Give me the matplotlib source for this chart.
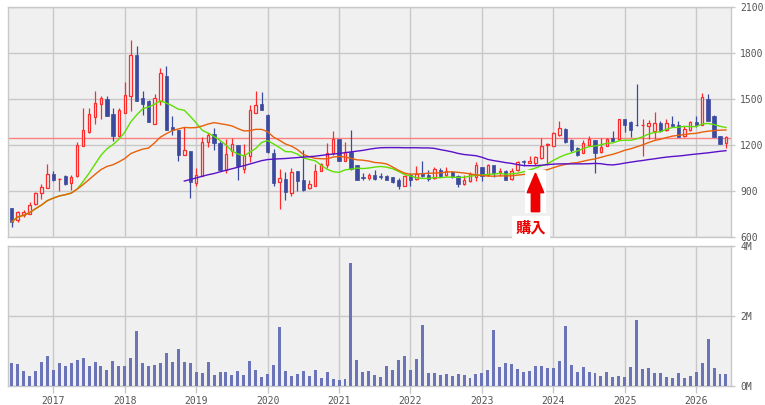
import numpy as np
import pandas as pd
import matplotlib
matplotlib.use("Agg")
import matplotlib.pyplot as plt
from matplotlib.patches import FancyArrow, Rectangle

# monthly candles, 2016-06 .. 2026-06
opens = [789, 711, 745, 752, 815, 887, 920, 1011, 975, 995, 952, 998,
         1191, 1282, 1383, 1467, 1502, 1404, 1256, 1409, 1517, 1787, 1506, 1489,
         1339, 1489, 1652, 1315, 1295, 1135, 1163, 952, 998, 1217, 1274, 1213,
         1039, 1158, 1202, 1043, 1126, 1411, 1467, 1398, 1148, 959, 980, 887,
         1032, 974, 920, 935, 1032, 1067, 1148, 1239, 1093, 1154, 1067, 991,
         985, 1006, 997, 995, 989, 974, 930, 1006, 980, 1017, 1006, 985,
         1039, 1002, 1024, 995, 946, 963, 991, 1054, 1006, 1071, 1021, 1032,
         978, 1034, 1095, 1083, 1083, 1115, 1200, 1195, 1267, 1306, 1235, 1180,
         1148, 1202, 1235, 1152, 1195, 1246, 1241, 1370, 1348, 1332, 1328, 1322,
         1293, 1343, 1300, 1337, 1333, 1256, 1296, 1350, 1330, 1500, 1391, 1261,
         1213]
highs = [792, 771, 778, 828, 893, 946, 1078, 1032, 982, 1006, 1002, 1217,
         1443, 1443, 1554, 1520, 1520, 1443, 1439, 1610, 1887, 1848, 1550, 1495,
         1535, 1704, 1717, 1389, 1295, 1317, 1163, 1050, 1250, 1278, 1311, 1224,
         1241, 1246, 1202, 1208, 1463, 1554, 1548, 1400, 1174, 1045, 1021, 1052,
         1032, 1169, 974, 1076, 1083, 1213, 1293, 1239, 1220, 1300, 1067, 1017,
         1017, 1034, 1017, 1002, 989, 985, 1006, 1017, 1065, 1098, 1039, 1054,
         1048, 1056, 1032, 1006, 1006, 1021, 1087, 1054, 1078, 1071, 1050, 1035,
         1050, 1093, 1104, 1130, 1126, 1246, 1210, 1282, 1354, 1311, 1241, 1185,
         1235, 1256, 1235, 1246, 1246, 1293, 1370, 1372, 1354, 1600, 1370, 1365,
         1415, 1359, 1370, 1391, 1354, 1322, 1359, 1387, 1540, 1535, 1398, 1261,
         1256]
lows = [665, 698, 730, 747, 809, 848, 917, 965, 897, 937, 908, 993,
        1191, 1276, 1337, 1370, 1387, 1223, 1252, 1409, 1419, 1484, 1393, 1348,
        1339, 1463, 1295, 1263, 1093, 1135, 854, 935, 998, 1187, 1169, 1032,
        1017, 1128, 974, 1015, 1089, 1409, 1426, 1150, 930, 780, 841, 869,
        897, 897, 915, 930, 1028, 1050, 1137, 1093, 1093, 1040, 974, 969,
        974, 974, 980, 974, 952, 913, 930, 930, 974, 989, 963, 980,
        991, 995, 985, 924, 941, 959, 963, 963, 995, 991, 995, 974,
        974, 1032, 1061, 1083, 1072, 1109, 1067, 1191, 1256, 1213, 1152, 1126,
        1148, 1202, 1017, 1148, 1191, 1219, 1241, 1282, 1250, 1326, 1126, 1241,
        1241, 1285, 1293, 1322, 1250, 1252, 1289, 1320, 1328, 1354, 1250, 1207,
        1180]
closes = [698, 763, 763, 809, 889, 928, 1011, 969, 980, 948, 991, 1197,
          1300, 1402, 1476, 1506, 1391, 1256, 1430, 1526, 1789, 1489, 1465, 1352,
          1506, 1671, 1295, 1295, 1132, 1169, 956, 1004, 1220, 1263, 1210, 1039,
          1143, 1207, 1060, 1137, 1430, 1461, 1426, 1152, 952, 985, 891, 1024,
          963, 904, 946, 1032, 1076, 1148, 1239, 1093, 1152, 1043, 974, 985,
          1006, 980, 993, 974, 956, 935, 1000, 974, 1013, 995, 980, 1043,
          995, 1032, 989, 946, 974, 1013, 1071, 995, 1071, 1017, 1032, 974,
          1028, 1087, 1091, 1093, 1122, 1195, 1208, 1278, 1311, 1217, 1169, 1132,
          1213, 1239, 1148, 1187, 1241, 1224, 1370, 1328, 1300, 1328, 1332, 1346,
          1343, 1293, 1343, 1322, 1252, 1306, 1348, 1328, 1513, 1359, 1250, 1207,
          1250]
# volume in millions of shares
volume = [0.66, 0.63, 0.43, 0.29, 0.43, 0.69, 0.86, 0.46, 0.66, 0.57, 0.66, 0.74,
          0.80, 0.57, 0.69, 0.57, 0.46, 0.71, 0.57, 0.57, 0.80, 1.57, 0.66, 0.57,
          0.60, 0.66, 0.94, 0.69, 1.06, 0.69, 0.66, 0.40, 0.37, 0.69, 0.31, 0.40,
          0.40, 0.31, 0.43, 0.31, 0.71, 0.46, 0.26, 0.34, 0.60, 1.69, 0.43, 0.29,
          0.34, 0.43, 0.29, 0.46, 0.23, 0.40, 0.20, 0.17, 0.20, 3.51, 0.74, 0.40,
          0.43, 0.31, 0.26, 0.57, 0.46, 0.74, 0.86, 0.46, 0.77, 1.74, 0.37, 0.37,
          0.31, 0.34, 0.29, 0.34, 0.31, 0.23, 0.34, 0.37, 0.46, 1.60, 0.54, 0.66,
          0.63, 0.49, 0.40, 0.43, 0.57, 0.57, 0.51, 0.51, 0.71, 1.71, 0.60, 0.40,
          0.54, 0.40, 0.37, 0.29, 0.40, 0.26, 0.29, 0.26, 0.54, 1.89, 0.49, 0.51,
          0.37, 0.37, 0.26, 0.23, 0.37, 0.23, 0.29, 0.40, 0.66, 1.34, 0.51, 0.34,
          0.34]
# 60-month average (needs history before the visible range)
ma60_start = 29
ma60 = [965, 975, 985, 996, 1006, 1014, 1025, 1035, 1045, 1055, 1065, 1076,
        1087, 1098, 1105, 1108, 1110, 1112, 1115, 1118, 1121, 1124, 1127, 1132,
        1137, 1141, 1145, 1150, 1155, 1160, 1165, 1172, 1178, 1182, 1183, 1183,
        1183, 1182, 1182, 1182, 1181, 1181, 1178, 1170, 1163, 1155, 1145, 1138,
        1134, 1130, 1120, 1106, 1098, 1092, 1085, 1080, 1072, 1066, 1065, 1065,
        1068, 1072, 1075, 1077, 1077, 1077, 1077, 1077, 1078, 1080, 1078, 1072,
        1070, 1075, 1082, 1088, 1094, 1099, 1105, 1110, 1116, 1121, 1125, 1128,
        1132, 1137, 1141, 1145, 1149, 1154, 1159, 1163]
buy_price = 1248
buy_index = 88

dates = pd.date_range("2016-06-01", periods=len(closes), freq="MS")
df = pd.DataFrame({"open": opens, "high": highs, "low": lows, "close": closes,
                   "volume": volume}, index=dates)
x = np.arange(len(df))
ma12 = df["close"].rolling(12, min_periods=1).mean()
ma24 = df["close"].rolling(24, min_periods=1).mean()

bg = "#f0f0f0"
grid_c = "#c8c8c8"
up_c = "#ff2a2a"
dn_c = "#3c4a9e"
tick_c = "#555555"

plt.rcParams["font.family"] = ["DejaVu Sans Mono"]

fig = plt.figure(figsize=(7.65, 4.05), dpi=100)
W, H = 765, 405
ax1 = fig.add_axes([8 / W, 1 - 237 / H, 723 / W, 230 / H])
ax2 = fig.add_axes([8 / W, 1 - 386 / H, 723 / W, 140 / H])

year_pos = x[df.index.month == 1]
year_lab = [str(d.year) for d in df.index[df.index.month == 1]]

for ax in (ax1, ax2):
    ax.set_facecolor(bg)
    ax.set_xlim(-0.62, 120.85)
    ax.set_xticks(year_pos)
    for s in ax.spines.values():
        s.set_color(grid_c)
        s.set_linewidth(1)
    ax.grid(True, color=grid_c, linewidth=1)
    ax.set_axisbelow(True)
    ax.yaxis.tick_right()
    ax.tick_params(colors=grid_c, labelcolor=tick_c, labelsize=7, length=3, width=1)

# candles
up = df["close"] >= df["open"]
ax1.vlines(x[up], df["low"][up], df["high"][up], color=up_c, linewidth=0.9, zorder=3)
ax1.vlines(x[~up], df["low"][~up], df["high"][~up], color=dn_c, linewidth=0.9, zorder=3)
body_lo = np.minimum(df["open"], df["close"])
body_h = np.maximum(np.abs(df["close"] - df["open"]), 2)
ax1.bar(x[up], body_h[up], bottom=body_lo[up], width=0.42, facecolor=bg,
        edgecolor=up_c, linewidth=0.9, zorder=4)
ax1.bar(x[~up], body_h[~up], bottom=body_lo[~up], width=0.55, facecolor=dn_c,
        edgecolor=dn_c, linewidth=0.5, zorder=4)

# moving averages
ax1.plot(x, ma12, color="#5ee000", linewidth=1, zorder=5)
ax1.plot(x, ma24, color="#e8600a", linewidth=1, zorder=5)
ax1.plot(x[ma60_start:], ma60, color="#5a10c8", linewidth=1, zorder=5)

ax1.axhline(buy_price, color="#ff8080", linewidth=1, zorder=2)

# buy marker
ax1.add_patch(Rectangle((buy_index - 1.7, 758), 3.4, 281, facecolor="white",
                        edgecolor="none", zorder=6))
ax1.add_patch(FancyArrow(buy_index, 765, 0, 252, width=1.4, head_width=2.8,
                         head_length=128, length_includes_head=True,
                         color="#ee0000", zorder=7))
ax1.text(buy_index - 0.8, 662, "購入", color="#ee0000", fontsize=11, fontweight="bold",
         family=["Noto Sans CJK JP", "DejaVu Sans"], ha="center", va="center",
         bbox=dict(boxstyle="square,pad=0.25", facecolor="white", edgecolor="none"),
         zorder=8, clip_on=False)

ax1.set_ylim(600, 2100)
ax1.set_yticks(range(600, 2101, 300))
ax1.tick_params(axis="x", labelbottom=False, length=0)

# volume
ax2.bar(x, df["volume"], width=0.5, color="#6b74b6", zorder=3)
ax2.set_ylim(0, 4)
ax2.set_yticks([0, 2, 4])
ax2.set_yticklabels(["0M", "2M", "4M"])
ax2.set_xticklabels(year_lab)
ax2.tick_params(axis="x", length=5, pad=2)

fig.savefig("out.png", dpi=100, facecolor="white")
